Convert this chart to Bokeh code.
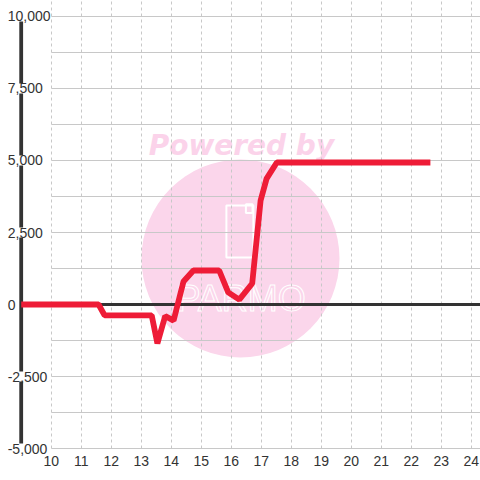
from bokeh.plotting import figure
from bokeh.models import Range1d, LinearAxis, Grid, FixedTicker
from bokeh.core.properties import value
from bokeh.embed import file_html
from bokeh.resources import INLINE

# ---- data ----
HOURS = [9.0, 11.58, 11.78, 13.35, 13.54, 13.8, 14.08, 14.41, 14.74, 15.6, 15.9,
         16.27, 16.7, 16.98, 17.18, 17.52, 22.64]
BALANCE = [0, 0, -380, -380, -1350, -400, -560, 800, 1180, 1180, 420,
           170, 730, 3610, 4370, 4930, 4930]
X_TICKS = [10, 11, 12, 13, 14, 15, 16, 17, 18, 19, 20, 21, 22, 23, 24]
Y_TICKS = [-5000, -2500, 0, 2500, 5000, 7500, 10000]
Y_LABELS = ["-5,000", "-2,500", "0", "2,500", "5,000", "7,500", "10,000"]
Y_GRID = [-5000, -3750, -2500, -1250, 0, 1250, 2500, 3750, 5000, 6250, 7500, 8750, 10000]

# ---- layout / style ----
X_START, X_END = 8.31, 24.31
Y_START, Y_END = -5555, 10555
FRAME_BOTTOM = 464
FONT = "Liberation Sans"
DARK = "#333333"
GRID = "#c8c8c8"
RED = "#ee1c37"
PINK = "#fbd6eb"

p = figure(width=480, height=480, output_backend="svg", toolbar_location=None,
           x_range=Range1d(X_START, X_END), y_range=Range1d(Y_START, Y_END),
           x_axis_type=None, y_axis_type=None,
           min_border_left=0, min_border_right=0, min_border_top=0,
           min_border_bottom=480 - FRAME_BOTTOM)
p.outline_line_color = None
p.background_fill_color = "white"
p.border_fill_color = "white"

# grids
xgrid = Grid(dimension=0, ticker=FixedTicker(ticks=X_TICKS),
             grid_line_color=GRID, grid_line_dash="3 3", grid_line_width=1)
ygrid = Grid(dimension=1, ticker=FixedTicker(ticks=Y_GRID),
             grid_line_color=GRID, grid_line_width=1.2)
try:
    xgrid.cross_bounds = (Y_TICKS[0], Y_END)
    ygrid.cross_bounds = (X_TICKS[0], X_END)
except Exception:
    pass
p.add_layout(xgrid)
p.add_layout(ygrid)

# watermark (behind grid)
WM_X, WM_Y = 16.31, 1597
p.scatter([WM_X], [WM_Y], size=198, marker="circle", fill_color=PINK,
          line_color=None, level="image")
p.rect([16.29], [2535], width=0.9, height=1805, fill_color=None,
       line_color="white", line_width=2, level="image")
p.rect([16.6], [3330], width=0.22, height=300, fill_color=None,
       line_color="white", line_width=2, level="image")
try:
    p.text([16.33], [208], text=["PARMO"], text_align="center",
           text_baseline="alphabetic", text_font=value(FONT),
           text_font_size="36px", text_color=PINK,
           text_outline_color="white", level="image")
except Exception:
    p.text([16.33], [208], text=["PARMO"], text_align="center",
           text_baseline="alphabetic", text_font=value(FONT),
           text_font_size="36px", text_color="white",
           text_alpha=0.8, level="image")
p.text([16.34], [5520], text=["Powered by"], text_align="center",
       text_baseline="alphabetic", text_font=value("DejaVu Sans"),
       text_font_style="bold italic", text_font_size="28px",
       text_color="#fbd3ea", level="image")

# zero line and y axis line
p.segment(x0=[HOURS[0]], y0=[0], x1=[X_END], y1=[0],
          line_color=DARK, line_width=3)
p.segment(x0=[HOURS[0]], y0=[Y_TICKS[0]], x1=[HOURS[0]], y1=[Y_TICKS[-1]],
          line_color=DARK, line_width=3.8)

# series
p.line(HOURS, BALANCE, line_color=RED, line_width=5.8)

# y tick labels (drawn over the axis line)
ykw = dict(x_offset=-13.5, text_align="left", text_baseline="middle",
           text_font=value(FONT), text_font_size="14px",
           text_color=DARK)
try:
    p.text([HOURS[0]] * len(Y_TICKS), Y_TICKS, text=Y_LABELS,
           background_fill_color="white", **ykw)
except Exception:
    p.text([HOURS[0]] * len(Y_TICKS), Y_TICKS, text=Y_LABELS, **ykw)

# x axis
xaxis = LinearAxis(ticker=FixedTicker(ticks=X_TICKS))
xaxis.axis_line_color = None
xaxis.major_tick_line_color = None
xaxis.minor_tick_line_color = None
xaxis.major_tick_out = 0
xaxis.major_tick_in = 0
xaxis.major_label_standoff = -9
xaxis.major_label_text_font = FONT
xaxis.major_label_text_font_size = "14px"
xaxis.major_label_text_color = DARK
p.add_layout(xaxis, "below")

open("out.html", "w").write(file_html(p, INLINE))
